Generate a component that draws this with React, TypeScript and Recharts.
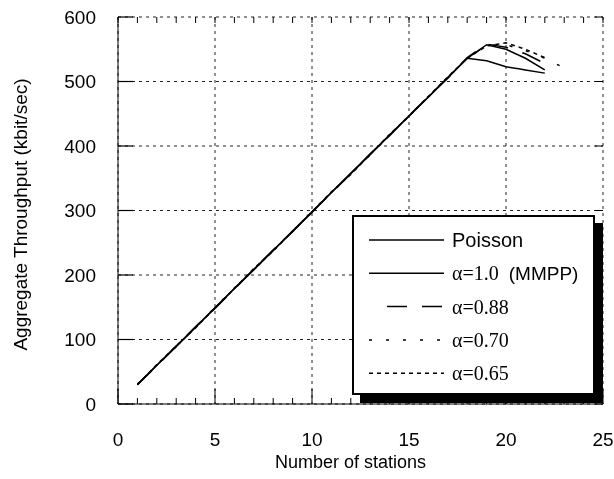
import React from 'react';
import * as Recharts from 'recharts';
import { LineChart, Line, XAxis, YAxis, CartesianGrid, Legend } from 'recharts';

const stations = [1, 2, 3, 4, 5, 6, 7, 8, 9, 10, 11, 12, 13, 14, 15, 16, 17, 18, 19, 20, 21, 22, 23];
const poisson = [30, 60, 90, 119, 149, 179, 209, 238, 268, 298, 328, 357, 387, 417, 447, 476, 506, 536, 532, 523, 518, 513, null];
const mmpp = [30, 60, 89, 119, 149, 179, 208, 238, 268, 297, 328, 358, 387, 417, 446, 476, 506, 536, 557, 550, 536, 518, null];
const alpha088 = [30, 59, 90, 120, 148, 178, 209, 239, 267, 298, 327, 357, 388, 416, 447, 477, 505, 537, 558, 553, 543, 528, null];
const alpha070 = [31, 60, 89, 119, 150, 180, 208, 238, 268, 299, 328, 357, 386, 417, 447, 476, 506, 536, 556, 557, 548, 536, 521];
const alpha065 = [30, 61, 90, 118, 149, 179, 210, 237, 268, 298, 329, 356, 387, 418, 446, 477, 507, 536, 555, 560, 550, 537, null];

const xMajorTicks = [0, 5, 10, 15, 20, 25];
const xMinorTicks = [0, 1, 2, 3, 4, 5, 6, 7, 8, 9, 10, 11, 12, 13, 14, 15, 16, 17, 18, 19, 20, 21, 22, 23, 24, 25];
const yTicks = [0, 100, 200, 300, 400, 500, 600];
const seriesLabels = ['Poisson', 'α=1.0', 'α=0.88', 'α=0.70', 'α=0.65'];
const xLabel = 'Number of stations';
const yLabel = 'Aggregate Throughput (kbit/sec)';

const data = stations.map((s, i) => ({
  s,
  poisson: poisson[i],
  mmpp: mmpp[i],
  a088: alpha088[i],
  a070: alpha070[i],
  a065: alpha065[i],
}));

const SERIES = [
  { key: 'poisson', dash: undefined as string | undefined, lx1: 15, lx2: 90 },
  { key: 'mmpp', dash: undefined as string | undefined, lx1: 15, lx2: 90 },
  { key: 'a088', dash: '20 15', lx1: 33, lx2: 90 },
  { key: 'a070', dash: '3 14', lx1: 15, lx2: 90 },
  { key: 'a065', dash: '4 4', lx1: 15, lx2: 90 },
];

const SANS = '"Liberation Sans", Arial, Helvetica, sans-serif';
const SERIF = '"Liberation Serif", "Times New Roman", serif';
const TICK_FONT = 19;
const X_MARGIN = 29;
const Y_MARGIN = 22;

const usePlotAreaSafe: () => any =
  typeof (Recharts as any).usePlotArea === 'function' ? (Recharts as any).usePlotArea : () => null;

const BottomTick = (props: any) => {
  const plot = usePlotAreaSafe();
  const { x, y, payload } = props;
  const v = payload.value;
  const major = v % 5 === 0;
  const axisY = y - X_MARGIN;
  return (
    <g>
      <line x1={x} x2={x} y1={axisY} y2={axisY - (major ? 15 : 6)} stroke="#000" strokeWidth={1} />
      {plot ? <line x1={x} x2={x} y1={plot.y} y2={plot.y + 6} stroke="#000" strokeWidth={1} /> : null}
      {major ? (
        <text x={x} y={y} dy="0.71em" textAnchor="middle" fontSize={TICK_FONT} fontFamily={SANS} fill="#000">
          {v}
        </text>
      ) : null}
    </g>
  );
};

const LeftTick = (props: any) => {
  const plot = usePlotAreaSafe();
  const { x, y, payload } = props;
  const axisX = x + Y_MARGIN;
  return (
    <g>
      <line x1={axisX} x2={axisX + 15} y1={y} y2={y} stroke="#000" strokeWidth={1.2} />
      {plot ? (
        <line x1={plot.x + plot.width} x2={plot.x + plot.width - 8} y1={y} y2={y} stroke="#000" strokeWidth={1} />
      ) : null}
      <text x={x} y={y} dy="0.355em" textAnchor="end" fontSize={TICK_FONT} fontFamily={SANS} fill="#000">
        {payload.value}
      </text>
    </g>
  );
};

const LegendBox = () => (
  <div
    style={{
      width: 243,
      height: 180,
      boxSizing: 'border-box',
      border: '2px solid #000',
      background: '#fff',
      boxShadow: '8px 8px 0 #000',
    }}
  >
    <svg width={239} height={176} style={{ display: 'block' }}>
      {SERIES.map((s, i) => {
        const y = 23 + i * 33.3;
        return (
          <g key={s.key}>
            <line x1={s.lx1} x2={s.lx2} y1={y} y2={y} stroke="#000" strokeWidth={1.5} strokeDasharray={s.dash} />
            <text x={98} y={y} dominantBaseline="central" fontSize={20} fill="#000">
              {i === 0 ? (
                <tspan fontFamily={SANS}>{seriesLabels[i]}</tspan>
              ) : (
                <tspan fontFamily={SERIF}>{seriesLabels[i]}</tspan>
              )}
              {i === 1 ? (
                <tspan fontFamily={SANS} fontSize={19} dx={10}>(MMPP)</tspan>
              ) : null}
            </text>
          </g>
        );
      })}
    </svg>
  </div>
);

const YLabel = (props: any) => {
  const vb = props.viewBox || { x: 0, y: 9, width: 110, height: 387 };
  const cx = vb.x + 12;
  const cy = vb.y + vb.height / 2 + 4;
  return (
    <text
      x={cx}
      y={cy}
      transform={`rotate(-90 ${cx} ${cy})`}
      textAnchor="middle"
      dominantBaseline="central"
      fontSize={19}
      fontFamily={SANS}
      fill="#000"
    >
      {yLabel}
    </text>
  );
};

const XLabel = (props: any) => {
  const vb = props.viewBox || { x: 110, y: 396, width: 485, height: 62 };
  const cx = vb.x + vb.width / 2 - 10;
  const cy = vb.y + 58;
  return (
    <text x={cx} y={cy} textAnchor="middle" dominantBaseline="central" fontSize={18} fontFamily={SANS} fill="#000">
      {xLabel}
    </text>
  );
};

export default function App() {
  return (
    <div style={{ position: 'fixed', left: 8, top: 8, width: 606, height: 463 }}>
      <LineChart width={606} height={463} data={data} margin={{ top: 9, right: 11, bottom: 5, left: 0 }}>
        <CartesianGrid stroke="#222" strokeWidth={1} strokeDasharray="3 4" verticalValues={xMajorTicks} horizontalValues={yTicks} />
        <XAxis
          dataKey="s"
          type="number"
          domain={[0, 25]}
          allowDataOverflow
          ticks={xMinorTicks}
          interval={0}
          height={62}
          tickLine={false}
          tickSize={0}
          tickMargin={X_MARGIN}
          axisLine={{ stroke: '#000' }}
          tick={(p: any) => <BottomTick {...p} />}
          label={{ content: XLabel }}
        />
        <XAxis
          xAxisId="top"
          dataKey="s"
          type="number"
          domain={[0, 25]}
          allowDataOverflow
          orientation="top"
          height={0}
          ticks={xMajorTicks}
          interval={0}
          tickLine={false}
          tickSize={0}
          tick={false}
          axisLine={{ stroke: '#000' }}
        />
        <YAxis
          type="number"
          domain={[0, 600]}
          allowDataOverflow
          ticks={yTicks}
          interval={0}
          width={110}
          tickLine={false}
          tickSize={0}
          tickMargin={Y_MARGIN}
          axisLine={{ stroke: '#000' }}
          tick={(p: any) => <LeftTick {...p} />}
          label={{ content: YLabel }}
        />
        <YAxis
          yAxisId="right"
          type="number"
          domain={[0, 600]}
          allowDataOverflow
          orientation="right"
          width={0}
          ticks={yTicks}
          interval={0}
          tickLine={false}
          tickSize={0}
          tick={false}
          axisLine={{ stroke: '#000' }}
        />
        <Line
          xAxisId="top"
          yAxisId="right"
          dataKey="poisson"
          legendType="none"
          stroke="none"
          strokeOpacity={0}
          dot={false}
          activeDot={false}
          isAnimationActive={false}
        />
        {SERIES.map((s, i) => (
          <Line
            key={s.key}
            dataKey={s.key}
            name={seriesLabels[i]}
            type="linear"
            stroke="#000"
            strokeWidth={1.5}
            strokeDasharray={s.dash}
            dot={false}
            activeDot={false}
            isAnimationActive={false}
          />
        ))}
        <Legend
          layout="vertical"
          align="center"
          verticalAlign="middle"
          content={() => <LegendBox />}
          wrapperStyle={{ position: 'absolute', left: 344, top: 207, width: 251, height: 188 }}
        />
      </LineChart>
    </div>
  );
}
